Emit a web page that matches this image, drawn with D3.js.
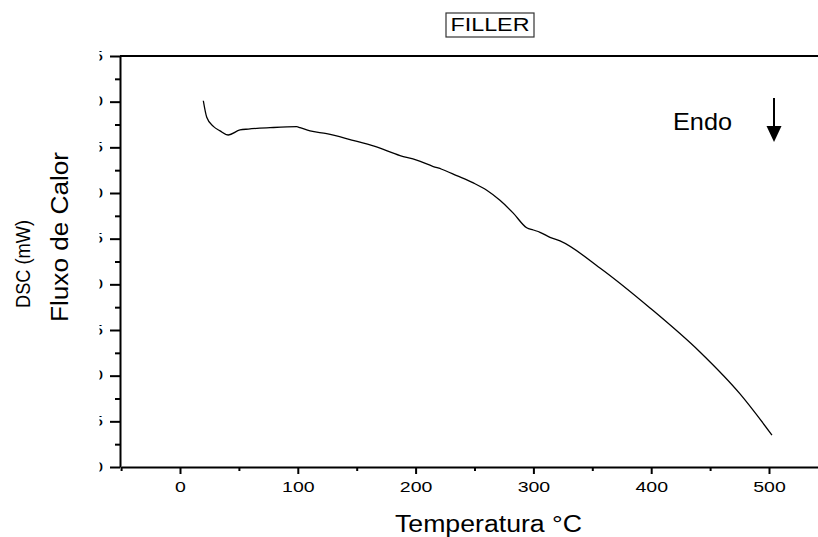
<!DOCTYPE html>
<html>
<head>
<meta charset="utf-8">
<script src="https://cdn.jsdelivr.net/npm/d3@7"></script>
<style>
  body { margin: 0; background: #fff; }
  text { font-family: "Liberation Sans", Arial, sans-serif; fill: #000; }
</style>
</head>
<body>
<svg id="chart"></svg>
<script>
const temperatures = [19.8, 22.7, 28.3, 34.0, 41.0, 50.9, 58.0, 76.4, 99.1, 101.9, 110.4, 124.5,
  145.8, 165.5, 186.8, 200.9, 215.0, 222.2, 234.9, 249.0, 260.4, 271.6, 282.9, 294.3, 299.9,
  305.6, 314.1, 322.6, 356.5, 399.0, 441.4, 475.4, 502.5];
const fluxo = [40.1, 38.3, 37.3, 36.8, 36.35, 36.9, 37.0, 37.15, 37.26, 37.15, 36.8, 36.5,
  35.8, 35.1, 34.1, 33.6, 32.9, 32.6, 31.9, 31.1, 30.3, 29.2, 27.8, 26.2, 25.95,
  25.7, 25.15, 24.75, 21.79, 17.41, 12.59, 8.0, 3.5];

const xTicks = [0, 100, 200, 300, 400, 500];
const xMinor = [-50, 50, 150, 250, 350, 450];
const yTicks = [0, 5, 10, 15, 20, 25, 30, 35, 40, 45];
const yMinor = [2.5, 7.5, 12.5, 17.5, 22.5, 27.5, 32.5, 37.5, 42.5];

const W = 818, H = 537;
const svg = d3.select('#chart').attr('width', W).attr('height', H);

const x = d3.scaleLinear().domain([-50, 550]).range([121.1, 827.9]);
const y = d3.scaleLinear().domain([0, 45]).range([467, 56]);

// étirer le texte horizontalement
function stretch(sel, f) {
  sel.each(function() {
    const w = this.getComputedTextLength();
    d3.select(this).attr('textLength', w * f).attr('lengthAdjust', 'spacingAndGlyphs');
  });
}

// Cadre du haut
svg.append('line')
  .attr('x1', 120).attr('x2', W).attr('y1', y(45)).attr('y2', y(45))
  .attr('stroke', '#000').attr('stroke-width', 2);

// Axe X
const gx = svg.append('g').attr('transform', `translate(0,${y(0)})`)
  .call(d3.axisBottom(x).tickValues(xTicks).tickSize(7).tickSizeOuter(0).tickPadding(7.3));
gx.select('.domain').attr('stroke-width', 2);
gx.selectAll('.tick line').attr('stroke-width', 2);
gx.selectAll('text').style('font-size', '15px').call(stretch, 1.3);

svg.append('g').attr('transform', `translate(0,${y(0)})`)
  .call(d3.axisBottom(x).tickValues(xMinor).tickSize(4).tickSizeOuter(0).tickFormat(''))
  .call(g => g.select('.domain').remove())
  .selectAll('.tick line').attr('stroke-width', 2);

// Axe Y (étiquettes coupées à gauche comme dans l'original)
svg.append('clipPath').attr('id', 'clipY')
  .append('rect').attr('x', 99.5).attr('y', 0).attr('width', 30).attr('height', H);

const gy = svg.append('g').attr('transform', `translate(120,0)`)
  .call(d3.axisLeft(y).tickValues(yTicks).tickSize(10).tickSizeOuter(0).tickFormat(''));
gy.select('.domain').attr('stroke-width', 2);
gy.selectAll('.tick line').attr('stroke-width', 2);

svg.append('g').attr('clip-path', 'url(#clipY)')
  .selectAll('text').data(yTicks).enter().append('text')
  .attr('x', 103).attr('y', d => y(d)).attr('dy', '0.32em')
  .attr('text-anchor', 'end').style('font-size', '15px')
  .text(d => d)
  .call(stretch, 1.3);

svg.append('g').attr('transform', `translate(120,0)`)
  .call(d3.axisLeft(y).tickValues(yMinor).tickSize(5).tickSizeOuter(0).tickFormat(''))
  .call(g => g.select('.domain').remove())
  .selectAll('.tick line').attr('stroke-width', 2);

// Courbe
const pts = temperatures.map((t, i) => [t, fluxo[i]]);
const line = d3.line().x(d => x(d[0])).y(d => y(d[1])).curve(d3.curveMonotoneX);
svg.append('path').datum(pts)
  .attr('fill', 'none').attr('stroke', '#000').attr('stroke-width', 1.3)
  .attr('d', line);

// Titres des axes
svg.append('text').attr('x', 488.5).attr('y', 531.5).attr('text-anchor', 'middle')
  .style('font-size', '23px').attr('textLength', 187).attr('lengthAdjust', 'spacingAndGlyphs')
  .text('Temperatura °C');

svg.append('text').attr('transform', 'translate(68,237) rotate(-90)').attr('text-anchor', 'middle')
  .style('font-size', '23px').attr('textLength', 170).attr('lengthAdjust', 'spacingAndGlyphs')
  .text('Fluxo de Calor');

svg.append('text').attr('transform', 'translate(30,264) rotate(-90)').attr('text-anchor', 'middle')
  .style('font-size', '20px').attr('textLength', 88).attr('lengthAdjust', 'spacingAndGlyphs')
  .text('DSC (mW)');

// Titre encadré
svg.append('rect').attr('x', 446).attr('y', 13).attr('width', 88).attr('height', 24)
  .attr('fill', 'none').attr('stroke', '#333').attr('stroke-width', 1.2);
svg.append('text').attr('x', 490).attr('y', 31).attr('text-anchor', 'middle')
  .style('font-size', '18px').attr('textLength', 79).attr('lengthAdjust', 'spacingAndGlyphs')
  .text('FILLER');

// Endo + flèche
svg.append('text').attr('x', 673).attr('y', 130).style('font-size', '24px')
  .attr('textLength', 59).attr('lengthAdjust', 'spacingAndGlyphs').text('Endo');
svg.append('line').attr('x1', 774).attr('x2', 774).attr('y1', 98).attr('y2', 128)
  .attr('stroke', '#000').attr('stroke-width', 2);
svg.append('path').attr('d', 'M766.5,126 L781.5,126 L774,142 Z').attr('fill', '#000');
</script>
</body>
</html>
